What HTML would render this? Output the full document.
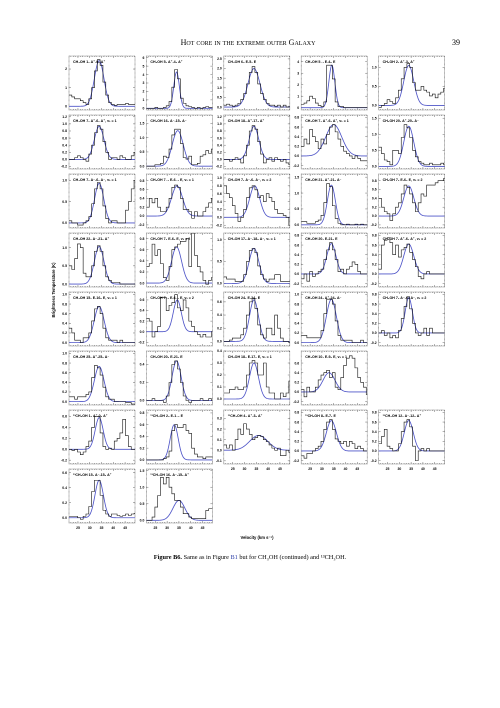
<!DOCTYPE html>
<html><head><meta charset="utf-8"><style>
body{margin:0;background:#fff;width:500px;height:708px;overflow:hidden;font-family:"Liberation Serif",serif}
svg{position:absolute;left:0;top:0}
</style></head><body>
<svg id="fig" width="500" height="708" viewBox="0 0 500 708">
<text x="248" y="45" text-anchor="middle" font-family="Liberation Serif,serif" font-size="8" style="font-variant:small-caps">Hot core in the extreme outer Galaxy</text>
<text x="456" y="45" text-anchor="middle" font-family="Liberation Serif,serif" font-size="8">39</text>
<text transform="translate(55,290) rotate(-90)" text-anchor="middle" font-family="Liberation Sans,sans-serif" font-size="4.2" font-weight="bold">Brightness Temperature (K)</text>
<text x="257" y="539" text-anchor="middle" font-family="Liberation Sans,sans-serif" font-size="4.2" font-weight="bold">Velocity (km s⁻¹)</text>
<text x="250" y="559" text-anchor="middle" font-family="Liberation Serif,serif" font-size="6.3"><tspan font-weight="bold">Figure B6.</tspan>  Same as in Figure <tspan fill="#3344aa">B1</tspan> but for CH₃OH (continued) and ¹³CH₃OH.</text>
<g id="panels"></g>
</svg>
<script>
const labels=["CH₃OH 1₁ A⁺-0₀ A⁺","CH₃OH 5₁ A⁺-4₂ A⁺","CH₃OH 6₀ E-5₁ E","CH₃OH 5₋₁ E-4₀ E","CH₃OH 2₁ A⁺-3₁ A⁺",
"CH₃OH 7₁ A⁺-6₁ A⁺, vₜ = 1","CH₃OH 16₁ A⁻-15₂ A⁻","CH₃OH 18₃ A⁺-17₄ A⁺","CH₃OH 7₁ A⁺-6₁ A⁺, vₜ = 1","CH₃OH 20₁ A⁺-20₀ A⁻",
"CH₃OH 7₁ A⁻-6₁ A⁻, vₜ = 1","CH₃OH 7₋₁ E-6₋₁ E, vₜ = 1","CH₃OH 7₁ A⁻-6₁ A⁻, vₜ = 2","CH₃OH 21₁ A⁺-21₀ A⁻","CH₃OH 7₂ E-6₂ E, vₜ = 2",
"CH₃OH 22₁ A⁻-21₂ A⁺","CH₃OH 7₂ E-6₂ E, vₜ = 2","CH₃OH 17₆ A⁻-18₅ A⁻, vₜ = 1","CH₃OH 20₁ E-21₂ E","CH₃OH 7₁ A⁺-6₁ A⁺, vₜ = 2",
"CH₃OH 15₁ E-16₀ E, vₜ = 1","CH₃OH 7₋₁ E-6₋₁ E, vₜ = 2","CH₃OH 24₁ E-24₀ E","CH₃OH 24₁ A⁺-24₀ A⁻","CH₃OH 7₂ A⁻-6₂ A⁻, vₜ = 2",
"CH₃OH 25₁ A⁺-25₀ A⁻","CH₃OH 20₂ E-21₁ E","CH₃OH 18₃ E-17₂ E, vₜ = 1","CH₃OH 10₁ E-9₀ E, vₜ = 1",
"¹³CH₃OH 1₁ A⁺-0₀ A⁺","¹³CH₃OH 2₀ E-1₋₁ E","¹³CH₃OH 4₁ A⁺-3₀ A⁺","¹³CH₃OH 8₀ E-7₁ E","¹³CH₃OH 12₁ A⁻-12₀ A⁺",
"¹³CH₃OH 15₁ A⁻-15₀ A⁺","¹³CH₃OH 16₁ A⁻-15₂ A⁺"];
const gridPos=[[0,0],[0,1],[0,2],[0,3],[0,4],[1,0],[1,1],[1,2],[1,3],[1,4],[2,0],[2,1],[2,2],[2,3],[2,4],[3,0],[3,1],[3,2],[3,3],[3,4],[4,0],[4,1],[4,2],[4,3],[4,4],[5,0],[5,1],[5,2],[5,3],[6,0],[6,1],[6,2],[6,3],[6,4],[7,0],[7,1]];
const yRanges=[[-0.2,2.7],[-0.2,6.2],[-0.15,2.65],[-0.2,4.5],[-0.12,1.3],
[-0.27,1.25],[-0.1,1.8],[-0.27,1.25],[-0.27,0.85],[-0.08,1.6],
[-0.12,1.15],[-0.27,0.95],[-0.27,1.1],[-0.1,1.6],[-0.27,0.95],
[-0.08,1.4],[-0.07,0.9],[-0.08,1.15],[-0.27,0.85],[-0.27,0.85],
[-0.07,1.05],[-0.27,0.75],[-0.07,0.75],[-0.07,1.05],[-0.27,0.85],
[-0.07,1.05],[-0.05,0.55],[-0.05,0.4],[-0.27,0.85],
[-0.27,0.72],[-0.07,0.85],[-0.13,0.38],[-0.27,0.85],[-0.27,0.85],
[-0.07,0.65],[-0.08,1.55]];
const yTicks=[[0,1,2],[0,1,2,3,4,5,6],[0,0.5,1,1.5,2,2.5],[0,1,2,3,4],[0,0.5,1],
[-0.2,0,0.2,0.4,0.6,0.8,1,1.2],[0,0.5,1,1.5],[-0.2,0,0.2,0.4,0.6,0.8,1,1.2],[-0.2,0,0.2,0.4,0.6,0.8],[0,0.5,1,1.5],
[0,0.5,1],[-0.2,0,0.2,0.4,0.6,0.8],[-0.2,0,0.2,0.4,0.6,0.8,1],[0,0.5,1,1.5],[-0.2,0,0.2,0.4,0.6,0.8],
[0,0.5,1],[0,0.2,0.4,0.6,0.8],[0,0.5,1],[-0.2,0,0.2,0.4,0.6,0.8],[-0.2,0,0.2,0.4,0.6,0.8],
[0,0.2,0.4,0.6,0.8,1],[-0.2,0,0.2,0.4,0.6],[0,0.2,0.4,0.6],[0,0.2,0.4,0.6,0.8,1],[-0.2,0,0.2,0.4,0.6,0.8],
[0,0.2,0.4,0.6,0.8,1],[0,0.2,0.4],[0,0.1,0.2,0.3,0.4],[-0.2,0,0.2,0.4,0.6],
[-0.2,0,0.2,0.4,0.6],[0,0.2,0.4,0.6,0.8],[-0.1,0,0.1,0.2,0.3],[-0.2,0,0.2,0.4,0.6,0.8],[-0.2,0,0.2,0.4,0.6,0.8],
[0,0.2,0.4,0.6],[0,0.5,1,1.5]];
// model gaussian: amplitude, centre velocity, FWHM
const modelAmp=[2.45,4.3,2.0,3.7,1.05, 0.93,1.25,0.93,0.65,1.25, 0.93,0.68,0.8,1.25,0.68, 1.03,0.65,0.8,0.63,0.62, 0.75,0.6,0.63,0.9,0.73, 0.73,0.44,0.3,0.4, 0.58,0.6,0.14,0.63,0.63, 0.5,0.6];
const modelV0=[34,34,34,34.2,34, 34,34.5,34,35,34, 34,34.2,34.3,34,34, 34,34,34,34,34, 34,34.3,34,34,34, 34,34,34,33, 34,33,36,34,34, 34,35];
const modelFwhm=[4.8,2.8,6,3,5, 4.8,5.5,4.8,8,5, 4.6,5.5,5,4,5, 4.8,5,5,4.5,5, 5,4,4.5,5,3.6, 4.8,4.5,4.5,6, 4,4,9,5,4.5, 4.2,6];
const vStart=21.8, vStep=1.2;
const spectra=[
[0.6,0.5,0.4,0.4,0.3,0.2,0.1,0.4,1.0,1.9,2.5,2.2,1.3,0.6,0.2,0.1,0.05,0.1,0.1,0.1,0.15,0.1,0.1,0.1],
[0,0,0,0.1,0,0,0.1,0.3,0.8,2.5,4.6,3.5,1.2,0.6,0.3,0.2,0.1,0,0.1,0,0.1,0.2,0.1,0.1],
[0.1,0.15,0.1,0.05,0.1,0.2,0.4,0.7,1.2,1.8,2.1,1.8,1.2,0.7,0.4,0.2,0.1,0.1,0.05,0.1,0,0.1,0,0.05],
[0.3,0.4,0.6,1.0,0.8,0.4,0.2,0.1,0.5,3.7,3.7,2.5,0.5,0.1,0.1,0,0,0,0,0,0,0,0,0],
[-0.05,0,0.05,0.15,0.1,0.05,0.2,0.4,0.7,1.0,1.1,1.0,0.6,0.4,0.4,0.5,0.4,0.35,0.25,0.3,0.2,0.3,0.35,0.45],
[0,0,0.05,0.1,0.05,0,-0.05,0.15,0.4,0.75,0.95,0.85,0.5,0.2,0,0.05,0.05,0,0.1,0.05,0,0,0.1,0.2],
[0,0,0,0.05,0.05,0.1,0.35,0.3,0.6,1.1,1.3,1.3,0.8,0.3,0.25,0.35,0.05,0.05,0.1,0.35,0.4,0.55,0.45,0.6],
[0,0,-0.05,0,0.05,0,-0.1,0.1,0.4,0.8,0.95,0.85,0.5,0.15,-0.1,0,0.05,-0.05,0.05,0,-0.05,0,-0.1,-0.15],
[0.2,0.35,0.25,0.55,0.4,0.3,0.15,0.35,0.25,0.45,0.6,0.65,0.5,0.35,0.2,0.1,0.05,0,-0.05,0,-0.05,-0.1,-0.1,-0.1],
[0.6,0.4,0.2,0.15,0.05,0.5,0.5,0.4,0.9,1.3,1.2,0.9,0.5,0.3,0.15,0.1,0.05,0.05,0.1,0.05,0.05,0.05,0.1,0.05],
[0.05,0,0,-0.05,-0.05,0,0.05,0.15,0.45,0.8,0.95,0.8,0.4,0.1,0,0.05,0.05,0,0,0,0.3,0.5,0.8,1.0],
[0.2,0.4,0.3,0.4,0.2,0.1,0.1,0.2,0.4,0.65,0.7,0.65,0.4,0.15,0.15,0.1,-0.05,0.1,0,0,0.1,0.2,0.3,0.4],
[0.8,0.6,0.5,0.3,0.1,-0.1,0,0.2,0.5,0.75,0.8,0.7,0.5,0.55,0.4,0.6,0.5,0.4,0.2,0.1,0.1,0.05,0,-0.2],
[0.1,0.1,0.05,0.05,0.05,0.1,0.15,0.3,0.7,1.3,1.2,0.6,0.2,0.05,0,0,0.02,0,0,0.02,0,0.02,0,0],
[0.4,0.2,0.1,0.05,-0.1,0.05,0.2,0.3,0.5,0.7,0.65,0.5,0.3,0.1,0.3,0.5,0.45,0.7,0.7,0.7,0.75,0.8,0.8,0.85],
[0.5,0.4,0.7,1.1,1.0,0.3,0.2,0.2,0.5,0.9,1.05,0.9,0.5,0.2,0.1,0.05,0.05,0.05,0,0,0,0,0,0],
[0.3,0.35,0.7,0.5,0.6,0.35,0.1,0.05,0.3,0.6,0.65,0.7,0.75,0.75,0.8,0.3,0.9,0.5,0.3,0.2,0.05,-0.02,0.05,0.1],
[0.15,0.1,0.1,0.1,0.05,0.05,0.05,0.2,0.5,0.75,0.8,0.7,0.4,0.2,0.1,0.05,0.1,0.1,0.2,0.2,0.05,0.05,0.05,0.05],
[-0.1,0,-0.15,0.05,-0.05,0,0.05,0.1,0.3,0.5,0.65,0.5,0.3,0.05,0.1,0,0.1,0.15,0.25,0.2,0.05,0,0,0],
[0.1,0.6,0.7,0.75,0.65,0.4,0.6,0.35,0.5,0.55,0.62,0.45,0.3,0.15,-0.05,-0.1,0,0.05,0,0,0,0,0,0],
[0.3,0.2,0.05,0.05,0,0.1,0.1,0.2,0.45,0.7,0.75,0.6,0.3,0.1,0.05,0.05,0.05,0,0.05,0,0,0,0,0],
[0.25,0.2,-0.1,0,0.1,0.65,0.65,0.4,0.5,0.55,0.7,0.45,0.4,0.6,0.45,0.2,0.1,0,-0.05,-0.1,-0.05,-0.1,-0.1,0],
[0,0,0.02,0.05,0.05,0.05,0.1,0.2,0.4,0.6,0.65,0.5,0.25,0.1,0.05,0.2,0.2,0.1,0.4,0.2,0.05,0,0,-0.02],
[0.15,0.15,0.1,0.1,0.1,0.1,0.1,0.25,0.6,0.9,0.9,0.8,0.45,0.15,0.05,0.05,0.05,0.05,0,0,0,0.05,0,0],
[0,0.05,-0.05,0,-0.1,-0.05,-0.1,0.05,0.3,0.55,0.75,0.5,0.2,0,-0.05,0,0.1,-0.05,0.1,0,0,0,0,0],
[0.1,0.1,0.05,0.1,0.1,0.1,0.15,0.2,0.5,0.75,0.7,0.55,0.3,0.1,0.05,0.05,0,0,0,0,-0.02,-0.02,-0.05,-0.05],
[0,0,0.02,0,0,0,-0.02,0.05,0.2,0.4,0.44,0.35,0.2,0.05,0,-0.02,0,0,0,0.02,0,0,0.02,0],
[0.05,0.05,0.08,0.08,0.1,0.08,0.08,0.1,0.2,0.3,0.32,0.3,0.2,0.2,0.3,0.1,0.05,0.05,0,0,0.05,0.02,0.05,0.15],
[0.05,-0.1,0.1,0,0,0.1,0.25,0.35,0.4,0.45,0.3,0.4,0.1,0.05,0.3,0.55,0.7,0.75,0.7,0.5,0.3,0.2,0.1,-0.05],
[0,-0.02,0,-0.05,-0.1,-0.05,0.05,0.15,0.4,0.6,0.6,0.3,0.05,0,0.02,0,0.15,0.2,0.3,0.55,0.25,0.05,0,0],
[0,0,0,0,0,0,0.02,0.05,0.15,0.5,0.6,0.55,0.55,0.6,0.5,0.45,0.2,0.1,0.05,0.05,0.02,0.05,0.05,0.05],
[0.05,0.02,0.05,0,0.1,0.2,0.15,0.25,0.2,0.15,0.1,0.12,0.14,0.13,0.1,0.08,0.05,0.02,0,0.02,-0.05,-0.05,0,-0.02],
[-0.1,-0.15,-0.05,-0.05,0,0.05,0.1,0.2,0.45,0.6,0.65,0.45,0.25,0.2,0.15,0.2,0.1,0.2,0.15,0.05,0.1,0.05,0,0],
[0.15,0.3,0.45,0.1,0.05,0,0,0.15,0.4,0.6,0.65,0.5,0.1,-0.2,0,0.05,0,0.05,0,0,0,0,0,0],
[0.02,0.02,0.02,0,-0.02,0.02,0.05,0.15,0.35,0.5,0.5,0.3,0.1,0.05,0.02,0.05,0.05,0.03,0.02,0.03,0.05,0.03,0.05,0.06],
[0,0,0.1,0.4,0.75,1.3,1.1,1.3,1.0,0.8,0.6,0.6,0.4,0.2,0.2,0.1,0.05,0.05,0.05,0.05,0.05,0.3,0.35,0.35]];
const xTicks=[25,30,35,40,45];
const vMin=21.2, vMax=49.2;

const NS="http://www.w3.org/2000/svg";
const root=document.getElementById('panels');
function mk(tag,attrs,parent){const e=document.createElementNS(NS,tag);for(const k in attrs)e.setAttribute(k,attrs[k]);parent.appendChild(e);return e;}
const W=66,H=54;
const bottomRow=[7,7,6,6,6];
labels.forEach((lab,p)=>{
  const [r,c]=gridPos[p];
  const x0=69+77.4*c, y0=56+59*r;
  const [ymin,ymax]=yRanges[p];
  const X=v=>x0+(v-vMin)/(vMax-vMin)*W;
  const Y=t=>y0+H-(t-ymin)/(ymax-ymin)*H;
  const g=mk('g',{},root);
  
  
  const cid='clip'+p;
  const cp=mk('clipPath',{id:cid},g);mk('rect',{x:x0,y:y0,width:W,height:H},cp);
  let d='';
  for(let v=22;v<=49;v++){const xx=X(v);const L=(v%5===0)?2:1;d+=`M${xx} ${y0+H}v${-L}M${xx} ${y0}v${L}`;}
  yTicks[p].forEach(t=>{const yy=Y(t);d+=`M${x0} ${yy}h2M${x0+W} ${yy}h-2`;});
  const tk=mk('path',{d:d,stroke:'#444','stroke-width':0.4,fill:'none'},g);
  
  
  const fr=mk('rect',{x:x0,y:y0,width:W,height:H,fill:'none',stroke:'#555','stroke-width':0.55,'stroke-dasharray':'0.9 0.4'},g);
  
  
  yTicks[p].forEach(t=>{
    const tl=mk('text',{x:x0-2,y:Y(t)+1.2,'text-anchor':'end','font-size':3.4,'font-weight':'bold','font-family':'Liberation Sans,sans-serif'},g);
    
    
    tl.textContent=(Math.abs(t)<1e-9?0:t).toFixed(yTicks[p].some(v=>Math.round(v)!==v)?1:0);
  });
  const A=modelAmp[p],v0=modelV0[p],s=modelFwhm[p]/2.3548;
  let md='';
  for(let k=0;k<=140;k++){const v=vMin+(vMax-vMin)*k/140;md+=(k?'L':'M')+X(v).toFixed(2)+' '+Y(A*Math.exp(-0.5*((v-v0)/s)**2)).toFixed(2);}
  const mp=mk('path',{d:md,stroke:'#4f55c8','stroke-width':0.85,fill:'none','clip-path':`url(#${cid})`},g);
  
  
  let hd='';
  spectra[p].forEach((t,i)=>{const vc=vStart+vStep*i;const a=X(vc-vStep/2),b=X(vc+vStep/2),yy=Y(t);hd+=(i?'L':'M')+a.toFixed(2)+' '+yy.toFixed(2)+'L'+b.toFixed(2)+' '+yy.toFixed(2);});
  const hp=mk('path',{d:hd,stroke:'#111','stroke-width':0.6,fill:'none','clip-path':`url(#${cid})`},g);
  
  
  const lt=mk('text',{x:x0+4,y:y0+7,'font-size':3.6,'font-weight':'bold','font-family':'Liberation Sans,DejaVu Sans,sans-serif'},g);
  
  
  lt.textContent=lab;
  if(bottomRow[c]===r){
    xTicks.forEach(v=>{
      const xl=mk('text',{x:X(v),y:y0+H+6,'text-anchor':'middle','font-size':3.4,'font-weight':'bold','font-family':'Liberation Sans,sans-serif'},g);
      
      
      xl.textContent=v;
    });
  }
});
</script>
</body></html>
